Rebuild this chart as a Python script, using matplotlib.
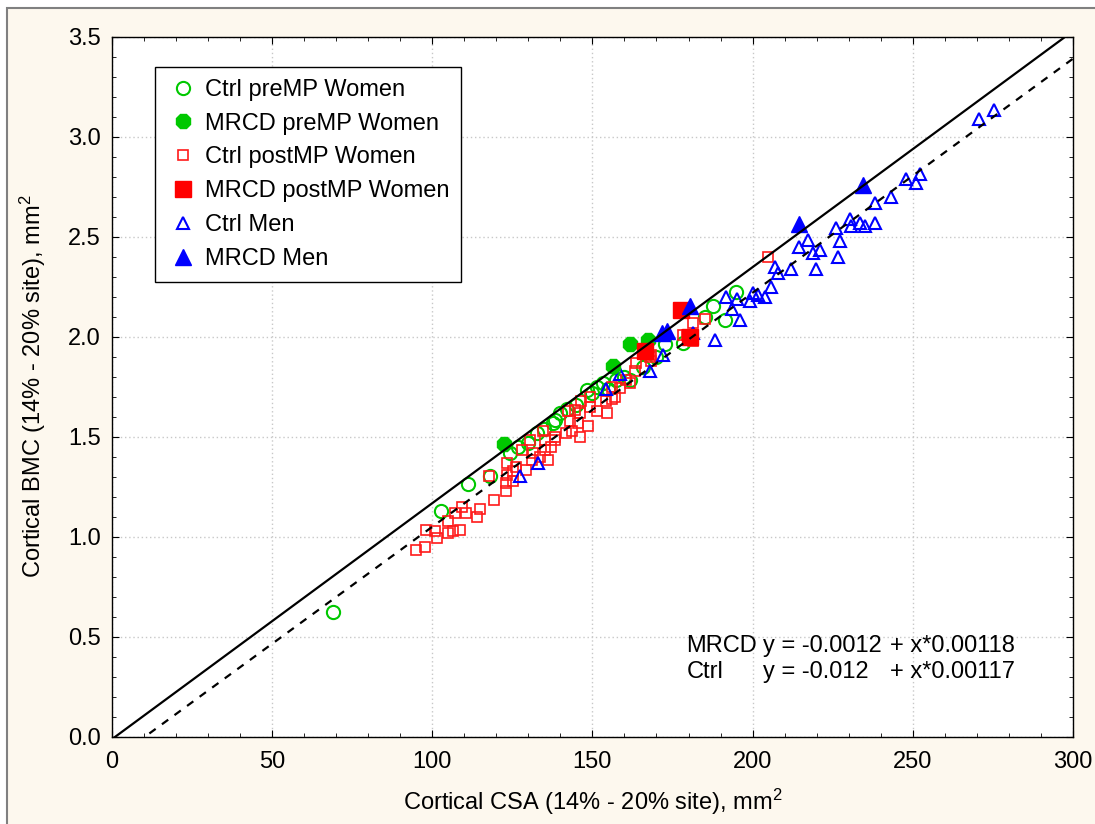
import matplotlib
matplotlib.use("Agg")
import matplotlib.pyplot as plt
from matplotlib.patches import Rectangle
from matplotlib.ticker import MultipleLocator, FormatStrFormatter
import numpy as np

plt.rcParams['font.family'] = ['Liberation Sans', 'DejaVu Sans']
plt.rcParams['mathtext.default'] = 'regular'

# Cortical CSA (mm2) vs cortical BMC per group
ctrl_pre_x = [69, 102.7, 111.2, 118.2, 124.2, 126.7, 130, 132.6, 135, 137.6,
              138.3, 139.8, 142, 145, 148.2, 150, 151.3, 153.3, 155, 157.5,
              160, 161.7, 165.7, 170, 172.6, 178.3, 185, 187.6, 191.3, 194.7]
ctrl_pre_y = [0.625, 1.127, 1.265, 1.305, 1.42, 1.45, 1.47, 1.52, 1.54, 1.57,
              1.585, 1.62, 1.64, 1.66, 1.735, 1.72, 1.75, 1.77, 1.74, 1.785,
              1.80, 1.785, 1.85, 1.90, 1.965, 1.97, 2.10, 2.155, 2.085, 2.225]

mrcd_pre_x = [122.5, 156.3, 161.7, 167.4]
mrcd_pre_y = [1.465, 1.855, 1.965, 1.985]

ctrl_post_x = [95.1, 97.7, 98.2, 100.8, 101.4, 105.0, 106.6, 108.6, 105.0, 107.1,
               109.2, 110.7, 113.9, 114.9, 119.2, 117.8, 123.0, 123.0, 125.3, 123.4,
               125.1, 126.3, 123.4, 129.4, 131.0, 131.5, 133.6, 136.2, 135.2, 137.2,
               135.2, 130.5, 127.9, 134.6, 138.3, 138.3, 141.9, 143.5, 146.1, 148.7,
               145.5, 142.9, 142.4, 144.5, 146.1, 146.6, 149.2, 149.2, 151.3, 154.6,
               154.4, 156.0, 157.0, 158.5, 156.0, 160.6, 161.7, 163.2, 163.5, 168.4,
               168.4, 178.3, 181.4, 185.1, 204.8, 168.0, 179.4, 181.4]
ctrl_post_y = [0.935, 0.95, 1.035, 1.027, 0.993, 1.02, 1.027, 1.035, 1.077, 1.12,
               1.15, 1.12, 1.10, 1.14, 1.185, 1.305, 1.23, 1.27, 1.277, 1.31,
               1.33, 1.35, 1.37, 1.335, 1.385, 1.42, 1.40, 1.385, 1.435, 1.45,
               1.485, 1.485, 1.435, 1.527, 1.50, 1.485, 1.52, 1.527, 1.50, 1.555,
               1.57, 1.577, 1.627, 1.635, 1.62, 1.677, 1.65, 1.70, 1.627, 1.62,
               1.677, 1.69, 1.70, 1.745, 1.75, 1.785, 1.77, 1.83, 1.87, 1.877,
               1.91, 2.01, 2.07, 2.09, 2.40, 1.90, 2.01, 1.977]

mrcd_post_x = [166.3, 177.8, 180.4]
mrcd_post_y = [1.93, 2.135, 2.0]

ctrl_men_x = [127.4, 133.1, 154.2, 158.5, 167.9, 171.9, 181.5, 188.2, 191.6, 193.7,
              195.1, 196.2, 199.1, 200.1, 201.7, 203.8, 205.6, 206.9, 207.9, 212.1,
              214.6, 217.3, 218.8, 220.9, 219.9, 226.1, 227.2, 226.6, 230.5, 230.8,
              233.6, 235, 238.1, 238.1, 243.3, 248, 251.1, 252.3, 270.6, 275.2]
ctrl_men_y = [1.305, 1.37, 1.74, 1.815, 1.83, 1.91, 2.02, 1.985, 2.20, 2.14,
              2.19, 2.085, 2.18, 2.22, 2.21, 2.20, 2.25, 2.35, 2.32, 2.34,
              2.45, 2.485, 2.42, 2.435, 2.34, 2.545, 2.48, 2.40, 2.59, 2.555,
              2.57, 2.555, 2.57, 2.67, 2.70, 2.79, 2.77, 2.815, 3.09, 3.135]

mrcd_men_x = [171.6, 173.4, 180.4, 214.4, 234.4]
mrcd_men_y = [2.02, 2.03, 2.155, 2.565, 2.76]

# regression fits (coefficients as reported; BMC scale factor 10 on the axis)
fit_names = ['MRCD', 'Ctrl']
fit_intercept = [-0.0012, -0.012]
fit_slope = [0.00118, 0.00117]
fit_styles = ['-', '--']
bmc_scale = 10

green = '#00c800'
red = '#ff1a1a'
blue = '#0000ff'
fs = 17

fig = plt.figure(figsize=(10.95, 8.24), dpi=100, facecolor='white')
fig.patches.append(Rectangle((7 / 1095, -0.1), 1.2, 1.1 - 8 / 824,
                             transform=fig.transFigure, facecolor='#fdf8ee',
                             edgecolor='#808080', linewidth=1.5, zorder=-10))
ax = fig.add_axes([0.102, 0.1056, 0.878, 0.850])
ax.set_facecolor('white')

ax.plot(ctrl_pre_x, ctrl_pre_y, 'o', ls='none', mfc='none', mec=green, mew=1.5, ms=9.5,
        label='Ctrl preMP Women', zorder=2)
ax.plot(ctrl_post_x, ctrl_post_y, 's', ls='none', mfc='none', mec=red, mew=1.2, ms=6.5,
        label='Ctrl postMP Women', zorder=2)
ax.plot(ctrl_men_x, ctrl_men_y, '^', ls='none', mfc='none', mec=blue, mew=1.5, ms=8,
        label='Ctrl Men', zorder=2)
ax.plot(mrcd_pre_x, mrcd_pre_y, '8', ls='none', color=green, ms=10.5,
        label='MRCD preMP Women', zorder=2)
ax.plot(mrcd_post_x, mrcd_post_y, 's', ls='none', color='#ff0000', ms=11,
        label='MRCD postMP Women', zorder=2)
ax.plot(mrcd_men_x, mrcd_men_y, '^', ls='none', color=blue, ms=11,
        label='MRCD Men', zorder=2)

xs = np.linspace(0, 300, 200)
for b0, b1, st in zip(fit_intercept, fit_slope, fit_styles):
    ax.plot(xs, (b0 + b1 * xs) * bmc_scale, color='black', ls=st, lw=1.6,
            dashes=(3.5, 3.5) if st == '--' else (None, None), zorder=3)

ax.set_xlim(0, 300)
ax.set_ylim(0, 3.5)
ax.xaxis.set_major_locator(MultipleLocator(50))
ax.xaxis.set_minor_locator(MultipleLocator(10))
ax.yaxis.set_major_locator(MultipleLocator(0.5))
ax.yaxis.set_minor_locator(MultipleLocator(0.1))
ax.yaxis.set_major_formatter(FormatStrFormatter('%.1f'))
ax.tick_params(which='both', direction='in', top=True, right=True, labelsize=fs)
ax.tick_params(which='major', length=5)
ax.tick_params(which='minor', length=3)
ax.tick_params(axis='x', pad=10)
ax.tick_params(axis='y', pad=8)
ax.grid(which='major', color='#c8c8c8', ls=(0, (1, 2)), lw=1)
ax.set_axisbelow(True)
for sp in ax.spines.values():
    sp.set_linewidth(1)

ax.set_xlabel('Cortical CSA (14% - 20% site), mm$^2$', fontsize=fs, labelpad=10)
ax.set_ylabel('Cortical BMC (14% - 20% site), mm$^2$', fontsize=fs, labelpad=14)

# legend in the fixed group order
handles, labels = ax.get_legend_handles_labels()
order = ['Ctrl preMP Women', 'MRCD preMP Women', 'Ctrl postMP Women',
         'MRCD postMP Women', 'Ctrl Men', 'MRCD Men']
hmap = dict(zip(labels, handles))
leg = ax.legend([hmap[k] for k in order], order, loc='upper left',
                bbox_to_anchor=(0.045, 0.9565), borderaxespad=0, fontsize=fs,
                frameon=True, fancybox=False, edgecolor='black', framealpha=1,
                handlelength=1.4, handletextpad=0.2, labelspacing=0.5,
                borderpad=0.5)
leg.get_frame().set_linewidth(1)

# fitted equations
col_x = [179.4, 203.2, 243.0]
row_y = [0.4265, 0.295]
for name, b0, b1, yy in zip(fit_names, fit_intercept, fit_slope, row_y):
    ax.text(col_x[0], yy, name, fontsize=fs, va='baseline')
    ax.text(col_x[1], yy, 'y = %g' % b0, fontsize=fs, va='baseline')
    ax.text(col_x[2], yy, '+ x*%.5f' % b1, fontsize=fs, va='baseline')

fig.savefig('out.png', dpi=100, facecolor=fig.get_facecolor())
